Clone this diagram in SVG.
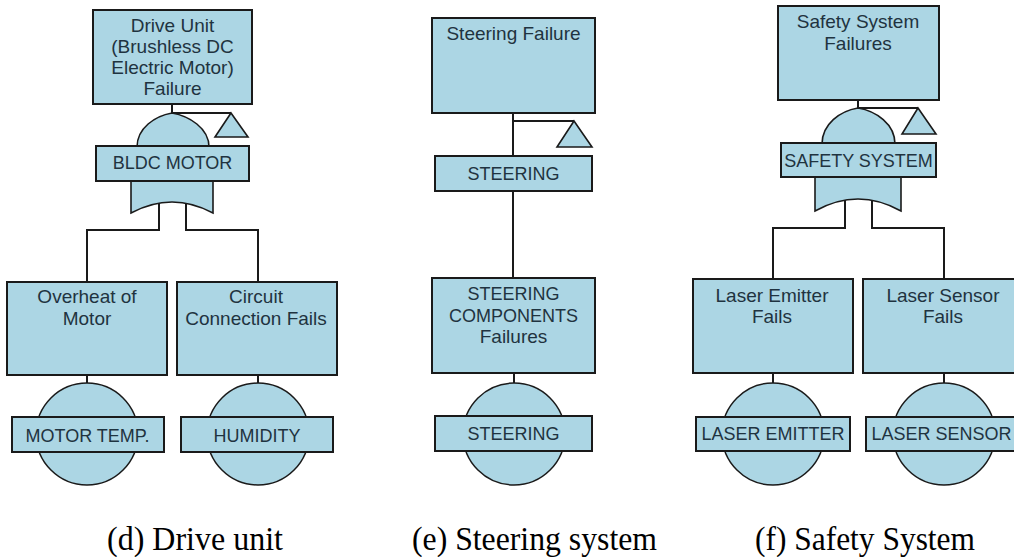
<svg xmlns="http://www.w3.org/2000/svg" width="1014" height="557" viewBox="0 0 1014 557">
<style>
.box{fill:#acd6e4;stroke:#1a1a1a;stroke-width:2}
.gate{fill:#acd6e4;stroke:#1a1a1a;stroke-width:1.6}
.circ{fill:#acd6e4;stroke:#1a1a1a;stroke-width:1.5}
.con{fill:none;stroke:#1a1a1a;stroke-width:2}
.t{font-family:"Liberation Sans",Arial,sans-serif;font-size:19px;fill:#1f3340;text-anchor:middle}
.c{font-size:18px}
.cap{font-family:"Liberation Serif","Times New Roman",serif;font-size:34px;fill:#000;text-anchor:start}
</style>
<rect width="1014" height="557" fill="#fff"/>
<g id="connectors">
  <path class="con" d="M172,104 V113 H231"/>
  <path class="con" d="M159,200 V230 H87 V282"/>
  <path class="con" d="M186,200 V230 H258 V282"/>
  <path class="con" d="M87,375 V383"/>
  <path class="con" d="M258,375 V383"/>
  <path class="con" d="M513,113 V156"/>
  <path class="con" d="M513,121 H574"/>
  <path class="con" d="M513,191 V278"/>
  <path class="con" d="M514,373 V383"/>
  <path class="con" d="M858,100 V108 H918"/>
  <path class="con" d="M845,198 V228 H773 V279"/>
  <path class="con" d="M872,198 V228 H944 V279"/>
  <path class="con" d="M773,373 V383"/>
  <path class="con" d="M944,373 V383"/>
</g>

<!-- (d) Drive unit -->
<g id="d-top">
  <rect class="box" x="93" y="10" width="159" height="94"/>
  <text class="t" x="172.5" y="32">Drive Unit</text>
  <text class="t" x="172.5" y="53">(Brushless DC</text>
  <text class="t" x="172.5" y="74">Electric Motor)</text>
  <text class="t" x="172.5" y="95">Failure</text>
</g>
<g id="d-transfer">
  <polygon class="gate" points="231,113 248,137 215,137"/>
</g>
<g id="d-gate">
  <path class="gate" d="M137,147 C137,128 155,116 172,113 C189,116 209,128 209,147 Z"/>
  <path class="gate" d="M131,180 V213 Q172,191 213,213 V180 Z"/>
  <rect class="box" x="96" y="146" width="153" height="35"/>
  <text class="t c" x="172.5" y="169">BLDC MOTOR</text>
</g>
<g id="d-overheat">
  <rect class="box" x="7" y="282" width="160" height="93"/>
  <text class="t" x="87" y="303">Overheat of</text>
  <text class="t" x="87" y="325">Motor</text>
</g>
<g id="d-circuit">
  <rect class="box" x="177" y="282" width="160" height="93"/>
  <text class="t" x="256" y="303">Circuit</text>
  <text class="t" x="256" y="325">Connection Fails</text>
</g>
<g id="d-motortemp">
  <circle class="circ" cx="87" cy="434" r="51"/>
  <rect class="box" x="12" y="417" width="152" height="35"/>
  <text class="t c" x="87.5" y="442">MOTOR TEMP.</text>
</g>
<g id="d-humidity">
  <circle class="circ" cx="258" cy="434" r="51"/>
  <rect class="box" x="181" y="417" width="152" height="35"/>
  <text class="t c" x="257" y="442">HUMIDITY</text>
</g>

<!-- (e) Steering system -->
<g id="e-top">
  <rect class="box" x="432" y="18" width="163" height="95"/>
  <text class="t" x="513.5" y="40">Steering Failure</text>
</g>
<g id="e-transfer">
  <polygon class="gate" points="574,121 592,147 557,147"/>
</g>
<g id="e-steering">
  <rect class="box" x="435" y="156" width="157" height="35"/>
  <text class="t c" x="513.5" y="180">STEERING</text>
</g>
<g id="e-components">
  <rect class="box" x="432" y="278" width="163" height="95"/>
  <text class="t c" x="513.5" y="300">STEERING</text>
  <text class="t c" x="513.5" y="322">COMPONENTS</text>
  <text class="t" x="513.5" y="343">Failures</text>
</g>
<g id="e-basic">
  <circle class="circ" cx="514" cy="434" r="51"/>
  <rect class="box" x="435" y="416" width="157" height="35"/>
  <text class="t c" x="513.5" y="440">STEERING</text>
</g>

<!-- (f) Safety System -->
<g id="f-top">
  <rect class="box" x="778" y="6" width="161" height="94"/>
  <text class="t" x="858" y="28">Safety System</text>
  <text class="t" x="858" y="50">Failures</text>
</g>
<g id="f-transfer">
  <polygon class="gate" points="918,108 936,134 902,134"/>
</g>
<g id="f-gate">
  <path class="gate" d="M822,144 C822,124 840,111 858,108 C876,111 895,124 895,144 Z"/>
  <path class="gate" d="M815,176 V211 Q858,187 901,211 V176 Z"/>
  <rect class="box" x="781" y="143" width="155" height="34"/>
  <text class="t c" x="858.5" y="167">SAFETY SYSTEM</text>
</g>
<g id="f-emitter">
  <rect class="box" x="693" y="279" width="160" height="94"/>
  <text class="t" x="772" y="302">Laser Emitter</text>
  <text class="t" x="772" y="323">Fails</text>
</g>
<g id="f-sensor">
  <rect class="box" x="863" y="279" width="160" height="94"/>
  <text class="t" x="943" y="302">Laser Sensor</text>
  <text class="t" x="943" y="323">Fails</text>
</g>
<g id="f-laseremitter">
  <circle class="circ" cx="773" cy="434" r="51"/>
  <rect class="box" x="696" y="417" width="154" height="34"/>
  <text class="t c" x="773" y="440">LASER EMITTER</text>
</g>
<g id="f-lasersensor">
  <circle class="circ" cx="944" cy="434" r="51"/>
  <rect class="box" x="866" y="417" width="154" height="34"/>
  <text class="t c" x="941.5" y="440">LASER SENSOR</text>
</g>

<g id="captions">
  <text class="cap" x="107" y="550" textLength="176" lengthAdjust="spacingAndGlyphs">(d) Drive unit</text>
  <text class="cap" x="412" y="550" textLength="245" lengthAdjust="spacingAndGlyphs">(e) Steering system</text>
  <text class="cap" x="755" y="550" textLength="220" lengthAdjust="spacingAndGlyphs">(f) Safety System</text>
</g>
</svg>
